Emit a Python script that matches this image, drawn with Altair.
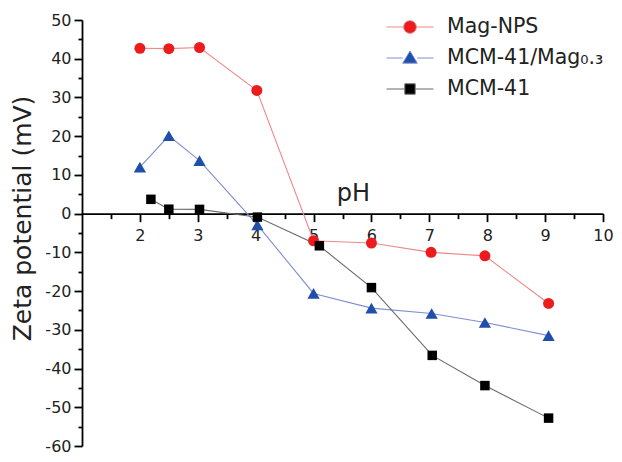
import altair as alt
import pandas as pd

series_names = ["Mag-NPS", "MCM-41/Mag₀.₃", "MCM-41"]

mag_ph = [2.0, 2.5, 3.03, 4.02, 5.0, 6.0, 7.03, 7.96, 9.06]
mag_zeta = [42.7, 42.6, 42.9, 31.8, -7.0, -7.6, -10.0, -10.9, -23.2]

mcm_mag_ph = [2.0, 2.5, 3.03, 4.03, 5.0, 6.0, 7.04, 7.96, 9.06]
mcm_mag_zeta = [12.0, 20.1, 13.7, -2.9, -20.6, -24.4, -25.8, -28.1, -31.5]

mcm_ph = [2.19, 2.5, 3.03, 4.03, 5.1, 6.0, 7.05, 7.96, 9.06]
mcm_zeta = [3.7, 1.15, 1.1, -0.9, -8.3, -19.1, -36.6, -44.4, -52.8]

marker_colors = ["#ec1c1c", "#1f4fa8", "#000000"]
line_colors = ["#ea8a8a", "#7f8fd0", "#6a6a6a"]
marker_shapes = ["circle", "triangle-up", "square"]
marker_sizes = [121, 150, 90]
legend_shapes = [
    "M-1,0H-0.27M0.27,0H1M-0.27,0A0.27,0.27 0 1,0 0.27,0A0.27,0.27 0 1,0 -0.27,0Z",
    "M-1,0H-0.31M0.31,0H1M0,-0.3L0.31,0.22L-0.31,0.22Z",
    "M-1,0H-0.22M0.22,0H1M-0.22,-0.22H0.22V0.22H-0.22Z",
]

x_major = [2, 3, 4, 5, 6, 7, 8, 9, 10]
x_minor = [1.5, 2.5, 3.5, 4.5, 5.5, 6.5, 7.5, 8.5, 9.5]
y_major = list(range(-60, 51, 10))
y_minor = list(range(-55, 50, 10))

rows = []
for name, xs, ys in [
    (series_names[0], mag_ph, mag_zeta),
    (series_names[1], mcm_mag_ph, mcm_mag_zeta),
    (series_names[2], mcm_ph, mcm_zeta),
]:
    for a, b in zip(xs, ys):
        rows.append({"pH": a, "zeta": b, "series": name})
df = pd.DataFrame(rows)

W, H = 521, 426
FONT = "DejaVu Sans"
x_offset = -H * 60 / 110
x_scale = alt.Scale(domain=[1, 10], nice=False, zero=False)
y_scale = alt.Scale(domain=[-60, 50], nice=False, zero=False)

axis_common = dict(
    grid=False,
    domainColor="#000",
    domainWidth=1.8,
    tickColor="#000",
    tickWidth=1.8,
    labelFont=FONT,
    labelFontSize=16,
    labelColor="#222",
    labelOverlap=False,
    labelFlush=False,
    labelExpr="'' + datum.value",
)

X_major = alt.X(
    "pH:Q",
    scale=x_scale,
    axis=alt.Axis(
        orient="bottom",
        values=x_major,
        offset=x_offset,
        tickSize=8,
        labelPadding=6,
        title="pH",
        titleFont=FONT,
        titleFontSize=24,
        titleFontWeight="normal",
        titleColor="#222",
        titleX=271,
        titleY=-13,
        titleAlign="center",
        titleBaseline="alphabetic",
        **axis_common,
    ),
)
X_minor = alt.X(
    "pH:Q",
    scale=x_scale,
    axis=alt.Axis(
        orient="bottom",
        values=x_minor,
        offset=x_offset,
        tickSize=5,
        tickColor="#000",
        tickWidth=1.8,
        labels=False,
        domain=False,
        grid=False,
        title=None,
    ),
)
Y_major = alt.Y(
    "zeta:Q",
    scale=y_scale,
    axis=alt.Axis(
        orient="left",
        values=y_major,
        tickSize=8,
        labelPadding=3,
        title="Zeta potential (mV)",
        titleFont=FONT,
        titleFontSize=25,
        titleFontWeight="normal",
        titleColor="#222",
        titleX=-52,
        titleY=198,
        titleAlign="center",
        titleBaseline="alphabetic",
        **axis_common,
    ),
)
Y_minor = alt.Y(
    "zeta:Q",
    scale=y_scale,
    axis=alt.Axis(
        orient="left",
        values=y_minor,
        tickSize=4,
        tickColor="#000",
        tickWidth=1.8,
        labels=False,
        domain=False,
        grid=False,
        title=None,
    ),
)
X_none = alt.X("pH:Q", scale=x_scale, axis=None)
Y_none = alt.Y("zeta:Q", scale=y_scale, axis=None)

lines = alt.Chart(df).mark_line(strokeWidth=1.1).encode(
    x=X_major,
    y=Y_major,
    stroke=alt.Stroke(
        "series:N",
        scale=alt.Scale(domain=series_names, range=line_colors),
        legend=None,
    ),
)

points = alt.Chart(df).mark_point(filled=True, opacity=1).encode(
    x=X_none,
    y=Y_none,
    color=alt.Color(
        "series:N", scale=alt.Scale(domain=series_names, range=marker_colors), legend=None
    ),
    shape=alt.Shape(
        "series:N", scale=alt.Scale(domain=series_names, range=marker_shapes), legend=None
    ),
    size=alt.Size(
        "series:N",
        scale=alt.Scale(type="ordinal", domain=series_names, range=marker_sizes),
        legend=None,
    ),
)

legend_kwargs = dict(
    title=None,
    orient="none",
    legendX=304,
    legendY=-8.5,
    clipHeight=31,
    rowPadding=0,
    padding=0,
    symbolSize=2209,
    symbolStrokeWidth=1,
    symbolOffset=0,
    labelOffset=13,
    labelFont=FONT,
    labelFontSize=20.5,
    labelColor="#222",
    labelLimit=320,
)

legend_layer = alt.Chart(df).mark_point(filled=True, opacity=1).encode(
    x=X_minor,
    y=Y_minor,
    color=alt.Color(
        "series:N",
        scale=alt.Scale(domain=series_names, range=marker_colors),
        legend=alt.Legend(**legend_kwargs),
    ),
    stroke=alt.Stroke(
        "series:N",
        scale=alt.Scale(domain=series_names, range=line_colors),
        legend=alt.Legend(**legend_kwargs),
    ),
    shape=alt.Shape(
        "series:N",
        scale=alt.Scale(domain=series_names, range=legend_shapes),
        legend=alt.Legend(**legend_kwargs),
    ),
).transform_filter("false")

chart = (
    alt.layer(lines, points, legend_layer)
    .resolve_scale(color="independent", shape="independent", size="independent", stroke="independent")
    .resolve_axis(x="independent", y="independent")
    .properties(
        width=W,
        height=H,
        autosize=alt.AutoSizeParams(type="none"),
        padding={"left": 74, "top": 12, "right": 11, "bottom": 8},
        background="white",
    )
    .configure_view(stroke=None)
)

chart.save("out.html", embed_options={"renderer": "svg", "actions": False})
